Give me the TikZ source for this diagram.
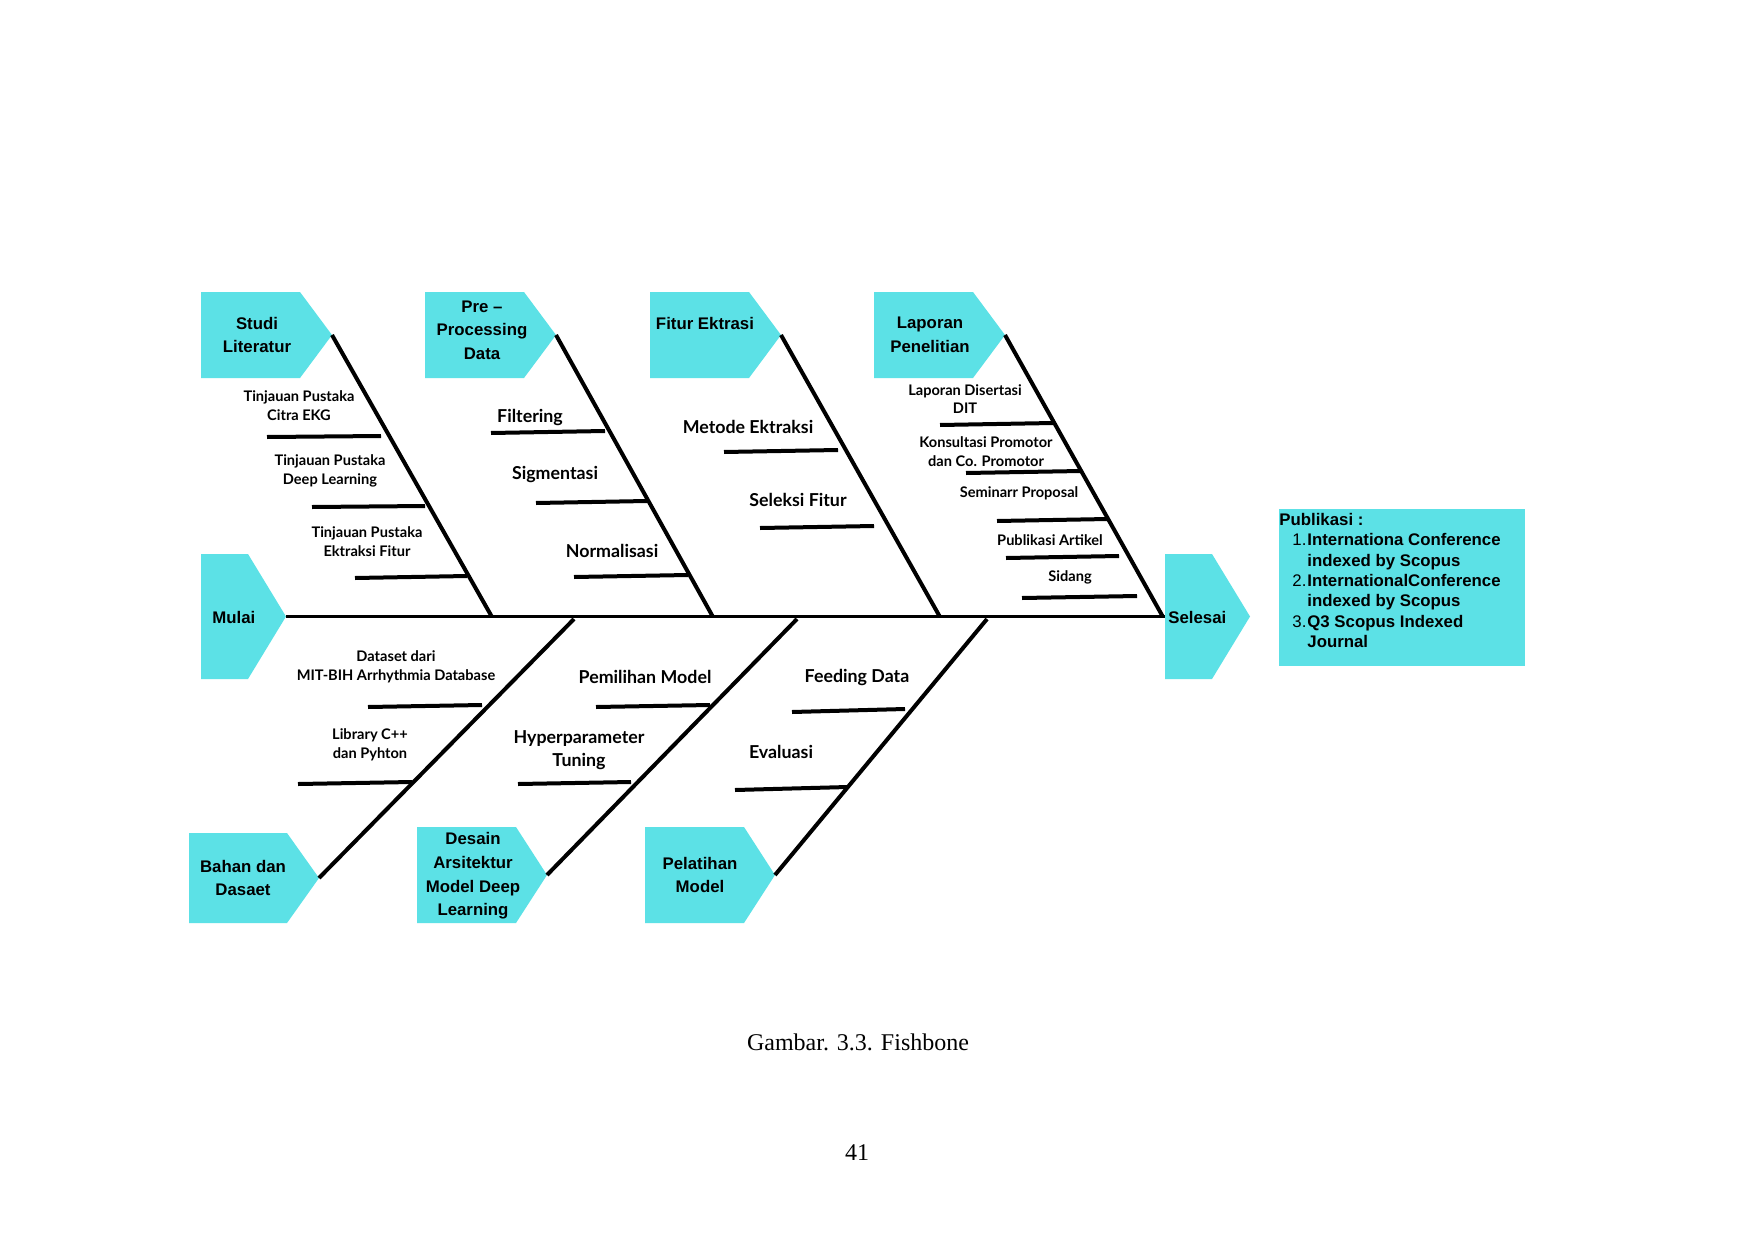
\documentclass[tikz,border=0pt]{standalone}
\usepackage{fontspec}
\setmainfont{Liberation Sans}
\newfontfamily\labfont{Lato}
\newfontfamily\serifcap{Liberation Serif}
\definecolor{fishcyan}{RGB}{92,225,230}
\newcommand{\fishhead}[6]{% name, left, top, right, bottom, tip
  \fill[fishcyan] (#2,#3) -- (#4,#3) -- (#6,{(#3+#5)/2}) -- (#4,#5) -- (#2,#5) -- cycle;
  \coordinate (#1) at (#6,{(#3+#5)/2});
  \coordinate (#1-back) at (#2,{(#3+#5)/2});
}
\newcommand{\twig}[5]{% name, x1, y1, x2, y2
  \coordinate (#1a) at (#2,#3);
  \coordinate (#1b) at (#4,#5);
  \draw[twigline] (#1a) -- (#1b);
}
\tikzset{
  boneline/.style={line width=2pt},
  spineline/.style={line width=1.5pt},
  twigline/.style={line width=2pt},
  headtxt/.style={font=\bfseries\fontsize{8.4}{11.8}\selectfont, align=center, inner sep=0pt},
  bigtxt/.style={font=\labfont\bfseries\fontsize{8.9}{11.6}\selectfont, align=center, inner sep=0pt},
  smalltxt/.style={font=\labfont\bfseries\fontsize{7.3}{9.4}\selectfont, align=center, inner sep=0pt},
}
\begin{document}
\begin{tikzpicture}[x=0.5pt,y=-0.5pt]
\useasboundingbox (0,0) rectangle (1754,1241);
\fill[white] (0,0) rectangle (1754,1241);

% heads
\fishhead{studi}{201}{292}{300}{378}{332}
\fishhead{prep}{425}{292}{524}{378}{556}
\fishhead{fitur}{650}{292}{749}{378}{781}
\fishhead{lapor}{874}{292}{973}{378}{1005}
\fishhead{mulai}{201}{554}{248}{679}{286}
\fishhead{selesai}{1165}{554}{1212}{679}{1250}
\fishhead{bahan}{189}{833}{287}{923}{319}
\fishhead{desain}{417}{827}{516}{923}{547}
\fishhead{latih}{645}{827}{744}{923}{775}

\node[headtxt] (tstudi) at (257,335) {Studi\\Literatur};
\node[headtxt] (tprep) at (482,330) {Pre –\\Processing\\Data};
\node[headtxt] (tfitur) at (705,323) {Fitur Ektrasi};
\node[headtxt] (tlapor) at (930,335) {Laporan\\Penelitian};
\node[headtxt, anchor=west] (tmulai) at (212,617) {Mulai};
\node[headtxt, anchor=west] (tselesai) at (1168,617) {Selesai};
\node[headtxt] (tbahan) at (243,878) {Bahan dan\\Dasaet};
\node[headtxt] (tdesain) at (473,876) {Desain\\Arsitektur\\Model Deep\\Learning};
\node[headtxt] (tlatih) at (700,875) {Pelatihan\\Model};

% spine
\coordinate (sp1) at (492,617);
\coordinate (sp2) at (713,617);
\coordinate (sp3) at (940,617);
\coordinate (sp4) at (1163,617);
\coordinate (sb1) at (574,619);
\coordinate (sb2) at (797,619);
\coordinate (sb3) at (987,619);
\draw[spineline] (mulai) -- (selesai-back);

% bones
\draw[boneline] (studi) -- (sp1);
\draw[boneline] (prep) -- (sp2);
\draw[boneline] (fitur) -- (sp3);
\draw[boneline] (lapor) -- (sp4);
\draw[boneline] (bahan) -- (sb1);
\draw[boneline] (desain) -- (sb2);
\draw[boneline] (latih) -- (sb3);

% twigs group 1
\twig{ta}{267}{437}{381}{436}
\twig{tb}{312}{507}{425}{506}
\twig{tc}{355}{578}{467}{576}
\node[smalltxt] (la) at (299,406) {Tinjauan Pustaka\\Citra EKG};
\node[smalltxt] (lb) at (330,471) {Tinjauan Pustaka\\Deep Learning};
\node[smalltxt] (lc) at (367,542) {Tinjauan Pustaka\\Ektraksi Fitur};

% group 2
\twig{td}{491}{433}{605}{431}
\twig{te}{536}{503}{647}{501}
\twig{tf}{574}{577}{688}{575}
\node[bigtxt] (ld) at (530,417) {Filtering};
\node[bigtxt] (le) at (555,475) {Sigmentasi};
\node[bigtxt] (lf) at (612,551) {Normalisasi};

% group 3
\twig{tg}{724}{452}{838}{450}
\twig{th}{760}{528}{874}{526}
\node[bigtxt] (lg) at (748,427) {Metode Ektraksi};
\node[bigtxt] (lh) at (798,500) {Seleksi Fitur};

% group 4
\twig{ti}{940}{425}{1053}{423}
\twig{tj}{966}{473}{1081}{471}
\twig{tk}{997}{521}{1108}{519}
\twig{tl}{1006}{558}{1119}{556}
\twig{tm}{1022}{598}{1137}{596}
\node[smalltxt] (li) at (965,399) {Laporan Disertasi\\DIT};
\node[smalltxt] (lj) at (986,452) {Konsultasi Promotor\\dan Co. Promotor};
\node[smalltxt] (lk) at (1019,493) {Seminarr Proposal};
\node[smalltxt] (ll) at (1050,540) {Publikasi Artikel};
\node[smalltxt] (lm) at (1070,577) {Sidang};

% bottom group 1
\twig{tn}{368}{707}{482}{705}
\twig{to}{298}{784}{412}{782}
\node[smalltxt] (ln) at (396,667) {Dataset dari\\MIT-BIH Arrhythmia Database};
\node[smalltxt] (lo) at (370,745) {Library C++\\dan Pyhton};

% bottom group 2
\twig{tp}{596}{707}{710}{705}
\twig{tq}{518}{784}{631}{782}
\node[bigtxt] (lp) at (645,677) {Pemilihan Model};
\node[bigtxt] (lq) at (579,750) {Hyperparameter\\Tuning};

% bottom group 3
\twig{tr}{792}{712}{905}{709}
\twig{ts}{735}{790}{848}{787}
\node[bigtxt] (lr) at (857,677) {Feeding Data};
\node[bigtxt] (ls) at (781,752) {Evaluasi};

% publikasi box
\fill[fishcyan] (1279,509) rectangle (1525,666);
\coordinate (pubnw) at (1279,513);
\node[anchor=north west, inner sep=0pt, align=left,
      font=\bfseries\fontsize{8.4}{10.15}\selectfont] (pub) at (pubnw)
  {Publikasi :\\
   \hspace*{6.5pt}\makebox[7.5pt][l]{\mdseries 1.}Internationa Conference\\
   \hspace*{14pt}indexed by Scopus\\
   \hspace*{6.5pt}\makebox[7.5pt][l]{\mdseries 2.}InternationalConference\\
   \hspace*{14pt}indexed by Scopus\\
   \hspace*{6.5pt}\makebox[7.5pt][l]{\mdseries 3.}Q3 Scopus Indexed\\
   \hspace*{14pt}Journal};

% caption and page number
\node[font=\serifcap\fontsize{12}{14}\selectfont, inner sep=0pt] (caption) at (858,1042) {Gambar. 3.3. Fishbone};
\node[font=\serifcap\fontsize{12}{14}\selectfont, inner sep=0pt] (pagenum) at (857,1153) {41};
\end{tikzpicture}
\end{document}
